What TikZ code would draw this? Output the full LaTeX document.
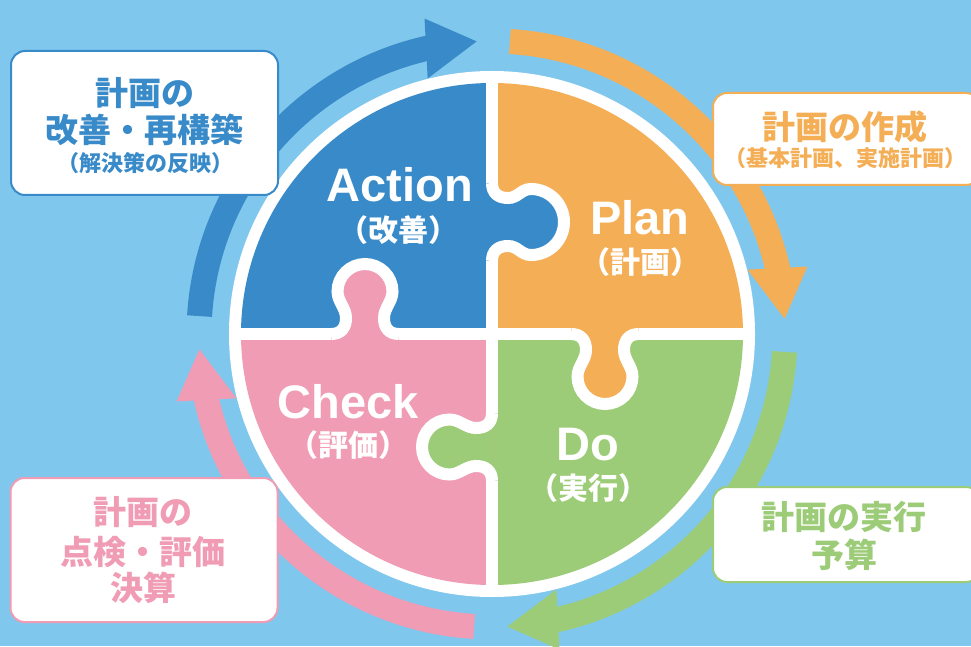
\documentclass[tikz,border=0pt]{standalone}
\usepackage{fontspec}
\usetikzlibrary{calc}
\setmainfont{Liberation Sans}
\newfontfamily\jpfont{Noto Sans CJK JP}
\definecolor{skyback}{RGB}{128,199,238}
\definecolor{actblue}{RGB}{56,138,200}
\definecolor{planorange}{RGB}{244,174,86}
\definecolor{dogreen}{RGB}{157,204,120}
\definecolor{checkpink}{RGB}{240,156,180}
% knob: #1 pinch half-width, #2 head radius, #3 head centre
\newcommand{\knobpath}[3]{(-#1-15,0) .. controls (-#1-5,0) and (-#1,6) .. (-#1,16)
  .. controls (-#1,26) and (-#2,#3-10) .. (-#2,#3)
  arc[start angle=180, end angle=0, radius=#2]
  .. controls (#2,#3-10) and (#1,26) .. (#1,16)
  .. controls (#1,6) and (#1+5,0) .. (#1+15,0)}

\begin{document}
\begin{tikzpicture}
  [x=1pt, y=1pt,
   box/.style = {draw, line width=2pt, fill=white, rounded corners=14pt, minimum width=267pt, inner sep=0pt},
   boxline/.style = {inner sep=0pt, font=\jpfont\bfseries\fontsize{33}{36}\selectfont},
   boxnote/.style = {inner sep=0pt, font=\jpfont\bfseries\fontsize{22}{24}\selectfont},
   phase/.style = {inner sep=0pt, text=white, font=\bfseries\fontsize{47}{50}\selectfont},
   phasejp/.style = {inner sep=0pt, text=white, font=\jpfont\bfseries\fontsize{30}{34}\selectfont},
   cutline/.style = {draw=white, line width=12pt},
   ringband/.style = {line width=25pt}]
  \clip (0,0) rectangle (971,646);
  \fill[skyback] (0,0) rectangle (971,646);

  \begin{scope}[shift={(492,312)}]
    \foreach \a/\c in {180/actblue, 90/planorange, 0/dogreen, -90/checkpink} {
      \draw[ringband, \c] (\a-3.5:293) arc[start angle=\a-3.5, end angle=\a-79, radius=293];
      \fill[\c] ($(\a-77:293)-(\a-87:30)$) -- ($(\a-77:293)+(\a-87:30)$) -- (\a-87:293) -- cycle;
    }
    \fill[white] (0,0) circle[radius=263];
    \fill[actblue] (0,0) -- (0,251) arc[start angle=90, end angle=180, radius=251] -- cycle;
    \fill[planorange] (0,0) -- (251,0) arc[start angle=0, end angle=90, radius=251] -- cycle;
    \fill[dogreen] (0,0) -- (0,-251) arc[start angle=270, end angle=360, radius=251] -- cycle;
    \fill[checkpink] (0,0) -- (-251,0) arc[start angle=180, end angle=270, radius=251] -- cycle;
    \begin{scope}[shift={(0,112)}, rotate=-90]
      \fill[actblue] \knobpath{24}{33}{39} -- cycle;
      \draw[cutline] \knobpath{24}{33}{39};
    \end{scope}
    \begin{scope}[shift={(113,0)}, rotate=180]
      \fill[planorange] \knobpath{19}{27.5}{42.5} -- cycle;
      \draw[cutline] \knobpath{19}{27.5}{42.5};
    \end{scope}
    \begin{scope}[shift={(0,-113)}, rotate=90]
      \fill[dogreen] \knobpath{19}{27.5}{42.5} -- cycle;
      \draw[cutline] \knobpath{19}{27.5}{42.5};
    \end{scope}
    \begin{scope}[shift={(-127,0)}]
      \fill[checkpink] \knobpath{19}{27.5}{42.5} -- cycle;
      \draw[cutline] \knobpath{19}{27.5}{42.5};
    \end{scope}
    \draw[cutline] (0,257) -- (0,151) (0,73) -- (0,0);
    \draw[cutline] (0,0) -- (79,0) (147,0) -- (257,0);
    \draw[cutline] (0,0) -- (0,-79) (0,-147) -- (0,-257);
    \draw[cutline] (0,0) -- (-93,0) (-161,0) -- (-257,0);
  \end{scope}

  \node[phase] (action) at (400,461) {Action};
  \node[phasejp] (actionjp) at (398,416) {（改善）};
  \node[phase] (plan) at (640,428) {Plan};
  \node[phasejp] (planjp) at (640,384) {（計画）};
  \node[phase] (check) at (348,244) {Check};
  \node[phasejp] (checkjp) at (348,201) {（評価）};
  \node[phase] (do) at (588,201) {Do};
  \node[phasejp] (dojp) at (588,158) {（実行）};

  \node[box, draw=actblue, minimum height=144pt] (actbox) at (144.5,523) {};
  \node[boxline, text=actblue] (act1) at (144.5,553) {計画の};
  \node[boxline, text=actblue] (act2) at (144.5,516) {改善・再構築};
  \node[boxnote, text=actblue] (act3) at (145.5,483) {（解決策の反映）};

  \node[box, draw=planorange, minimum height=92pt] (planbox) at (846.5,507) {};
  \node[boxline, text=planorange] (plan1) at (845,519) {計画の作成};
  \node[boxnote, text=planorange] (plan2) at (845,488) {（基本計画、実施計画）};

  \node[box, draw=dogreen, minimum height=95pt] (dobox) at (846.5,111.5) {};
  \node[boxline, text=dogreen] (do1) at (844,129) {計画の実行};
  \node[boxline, text=dogreen] (do2) at (844,91) {予算};

  \node[box, draw=checkpink, minimum height=144pt] (checkbox) at (144,96) {};
  \node[boxline, text=checkpink] (check1) at (143,134) {計画の};
  \node[boxline, text=checkpink] (check2) at (143,94) {点検・評価};
  \node[boxline, text=checkpink] (check3) at (143,58) {決算};
\end{tikzpicture}
\end{document}
